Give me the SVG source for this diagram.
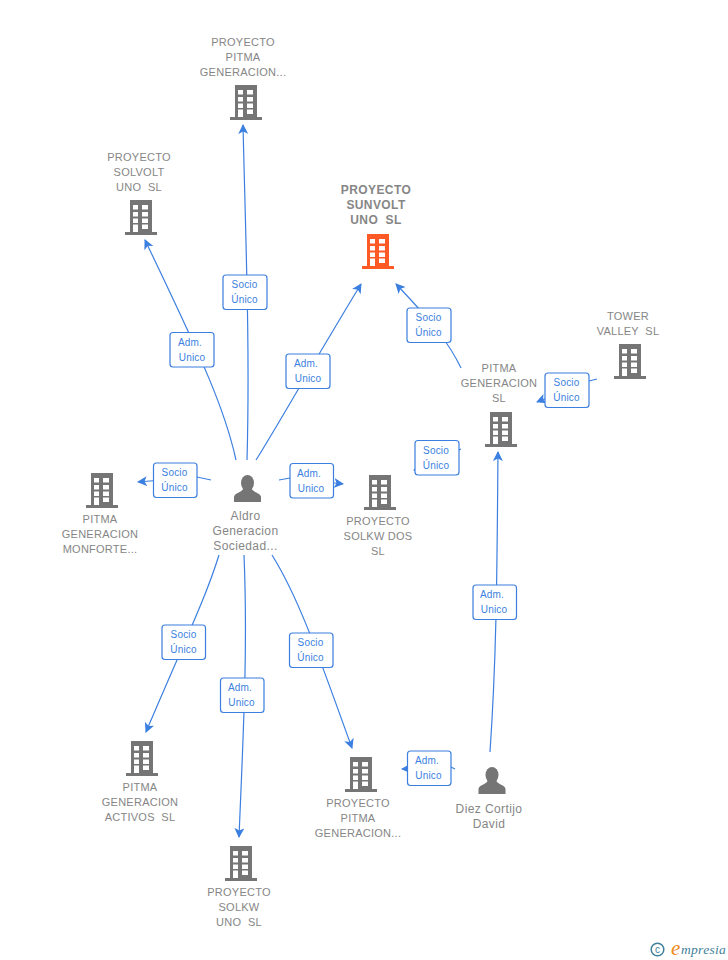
<svg xmlns="http://www.w3.org/2000/svg" width="728" height="960" viewBox="0 0 728 960">
<style>
text{font-family:"Liberation Sans",Arial,sans-serif;text-anchor:middle;white-space:pre}
.n{font-size:11px;fill:#868686;letter-spacing:.25px}
.p{font-size:12px;fill:#868686;letter-spacing:.4px}
.m{font-size:12px;font-weight:bold;fill:#868686;letter-spacing:.4px}
.l{font-size:10px;fill:#3b7fe0;letter-spacing:.15px}
.c{fill:none;stroke:#3b7fe0;stroke-width:1.2}
.b{fill:#fff;stroke:#3b7fe0;stroke-width:1.2}
</style>
<defs>
<marker id="a" markerWidth="11" markerHeight="10" refX="9" refY="5" orient="auto" markerUnits="userSpaceOnUse"><path d="M0 0L10 5L0 10L2.5 5Z" fill="#3b7fe0"/></marker>
<symbol id="bld" overflow="visible"><path fill-rule="evenodd" d="M-11 0H11V32H16V35H-16V32H-11ZM-8 5V9.500H-3V5ZM1 5V9.500H7V5ZM-8 12V16.500H-3V12ZM1 12V16.500H7V12ZM-8 18.500V23H-3V18.500ZM1 18.500V23H7V18.500ZM-8 24.500V32H-3V24.500ZM1 24.500V29H7V24.500Z"/></symbol>
<symbol id="per" overflow="visible"><ellipse cx="0" cy="8" rx="6.500" ry="8"/><path d="M-13.500 27V22C-13.500 18-5 17.500-4 13H4C5 17.500 13.500 18 13.500 22V27Z"/></symbol>
</defs>
<g id="connectors">
<path class="c" marker-end="url(#a)" d="M247 460C250 350 246 250 243 125"/>
<path class="c" marker-end="url(#a)" d="M236 460C225 410 205 365 145 240"/>
<path class="c" marker-end="url(#a)" d="M256 460C275 430 300 385 361 284"/>
<path class="c" marker-end="url(#a)" d="M461 368C450 345 435 325 396 284"/>
<path class="c" marker-end="url(#a)" d="M597 379L589 381L537 402"/>
<path class="c" marker-end="url(#a)" d="M461 449L459 450L414 470"/>
<path class="c" marker-end="url(#a)" d="M490 752C497 650 497 560 498 452"/>
<path class="c" marker-end="url(#a)" d="M455 769L451 767L402 769"/>
<path class="c" marker-end="url(#a)" d="M211 480L197 477L138 482"/>
<path class="c" marker-end="url(#a)" d="M279 480L290 478L343 484"/>
<path class="c" marker-end="url(#a)" d="M219 555C205 600 185 640 146 732"/>
<path class="c" marker-end="url(#a)" d="M244 555C248 650 243 740 239 837"/>
<path class="c" marker-end="url(#a)" d="M272 555C300 600 320 660 352 748"/>
</g>
<g id="labels">
<g><rect class="b" x="223" y="275" width="44" height="34.500" rx="3"/><text class="l" x="244.500" y="288">Socio</text><text class="l" x="244.500" y="303">Único</text></g>
<g><rect class="b" x="170" y="332.500" width="44" height="34.500" rx="3"/><text class="l" x="190" y="346">Adm.</text><text class="l" x="192" y="361">Unico</text></g>
<g><rect class="b" x="286" y="354" width="44" height="34.500" rx="3"/><text class="l" x="306" y="367">Adm.</text><text class="l" x="308" y="382">Unico</text></g>
<g><rect class="b" x="407" y="308" width="44" height="34.500" rx="3"/><text class="l" x="428.500" y="321">Socio</text><text class="l" x="428.500" y="336">Único</text></g>
<g><rect class="b" x="545" y="373" width="44" height="34.500" rx="3"/><text class="l" x="566.500" y="386">Socio</text><text class="l" x="566.500" y="401">Único</text></g>
<g><rect class="b" x="415" y="440.500" width="44" height="34.500" rx="3"/><text class="l" x="436" y="454">Socio</text><text class="l" x="436" y="469">Único</text></g>
<g><rect class="b" x="153.500" y="463" width="43.500" height="34.500" rx="3"/><text class="l" x="174.500" y="476">Socio</text><text class="l" x="174.500" y="491">Único</text></g>
<g><rect class="b" x="290" y="463.500" width="43.500" height="34.500" rx="3"/><text class="l" x="309" y="477">Adm.</text><text class="l" x="311" y="492">Unico</text></g>
<g><rect class="b" x="473" y="585" width="43.500" height="34.500" rx="3"/><text class="l" x="492" y="598">Adm.</text><text class="l" x="494" y="613">Unico</text></g>
<g><rect class="b" x="162" y="625" width="43.500" height="34.500" rx="3"/><text class="l" x="183.500" y="638">Socio</text><text class="l" x="183.500" y="653">Único</text></g>
<g><rect class="b" x="220.500" y="678" width="43.500" height="34.500" rx="3"/><text class="l" x="240" y="691">Adm.</text><text class="l" x="241.500" y="706">Unico</text></g>
<g><rect class="b" x="289.500" y="633" width="43.500" height="34.500" rx="3"/><text class="l" x="310.500" y="646">Socio</text><text class="l" x="310.500" y="661">Único</text></g>
<g><rect class="b" x="407.500" y="751" width="43.500" height="34.500" rx="3"/><text class="l" x="427" y="764">Adm.</text><text class="l" x="428.500" y="779">Unico</text></g>
</g>
<g id="n-pitma-top"><text class="n" x="243" y="46">PROYECTO</text><text class="n" x="243" y="61">PITMA</text><text class="n" x="243" y="76">GENERACION...</text><use href="#bld" x="246" y="85" fill="#757575"/></g>
<g id="n-solvolt"><text class="n" x="139" y="161">PROYECTO</text><text class="n" x="139" y="176">SOLVOLT</text><text class="n" x="139" y="191">UNO  SL</text><use href="#bld" x="141" y="200" fill="#757575"/></g>
<g id="n-sunvolt"><text class="m" x="376" y="194">PROYECTO</text><text class="m" x="376" y="209">SUNVOLT</text><text class="m" x="376" y="224">UNO  SL</text><use href="#bld" x="378" y="234" fill="#ff5a26"/></g>
<g id="n-tower"><text class="n" x="628" y="320">TOWER</text><text class="n" x="628" y="335">VALLEY  SL</text><use href="#bld" x="630" y="344" fill="#757575"/></g>
<g id="n-pitma-sl"><text class="n" x="499" y="372">PITMA</text><text class="n" x="499" y="387">GENERACION</text><text class="n" x="499" y="402">SL</text><use href="#bld" x="501" y="412" fill="#757575"/></g>
<g id="n-monforte"><text class="n" x="100" y="523">PITMA</text><text class="n" x="100" y="538">GENERACION</text><text class="n" x="100" y="553">MONFORTE...</text><use href="#bld" x="102" y="473" fill="#757575"/></g>
<g id="n-solkw-dos"><text class="n" x="378" y="525">PROYECTO</text><text class="n" x="378" y="540">SOLKW DOS</text><text class="n" x="378" y="555">SL</text><use href="#bld" x="380" y="475" fill="#757575"/></g>
<g id="n-aldro"><use href="#per" x="247.500" y="475" fill="#757575"/><text class="p" x="245.500" y="520">Aldro</text><text class="p" x="245.500" y="535">Generacion</text><text class="p" x="245.500" y="550">Sociedad...</text></g>
<g id="n-activos"><text class="n" x="140" y="791">PITMA</text><text class="n" x="140" y="806">GENERACION</text><text class="n" x="140" y="821">ACTIVOS  SL</text><use href="#bld" x="142" y="741" fill="#757575"/></g>
<g id="n-solkw-uno"><text class="n" x="239" y="896">PROYECTO</text><text class="n" x="239" y="911">SOLKW</text><text class="n" x="239" y="926">UNO  SL</text><use href="#bld" x="241" y="846" fill="#757575"/></g>
<g id="n-pitma-bottom"><text class="n" x="358" y="807">PROYECTO</text><text class="n" x="358" y="822">PITMA</text><text class="n" x="358" y="837">GENERACION...</text><use href="#bld" x="361" y="757" fill="#757575"/></g>
<g id="n-diez"><use href="#per" x="492" y="767" fill="#757575"/><text class="p" x="489" y="813">Diez Cortijo</text><text class="p" x="489" y="828">David</text></g>
<g id="logo"><circle cx="657.500" cy="949.500" r="6.300" fill="none" stroke="#3f7f9a" stroke-width="1.500"/><text x="657.500" y="953" style="font-size:10px;fill:#3f7f9a">c</text><text x="671" y="955" style="text-anchor:start;font-family:'Liberation Serif',serif;font-size:21px;font-style:italic;fill:#f08a1d">e</text><text x="681" y="954" style="text-anchor:start;font-family:'Liberation Serif',serif;font-size:13.500px;font-style:italic;fill:#3f7f9a;letter-spacing:.3px">mpresia</text></g>
</svg>
